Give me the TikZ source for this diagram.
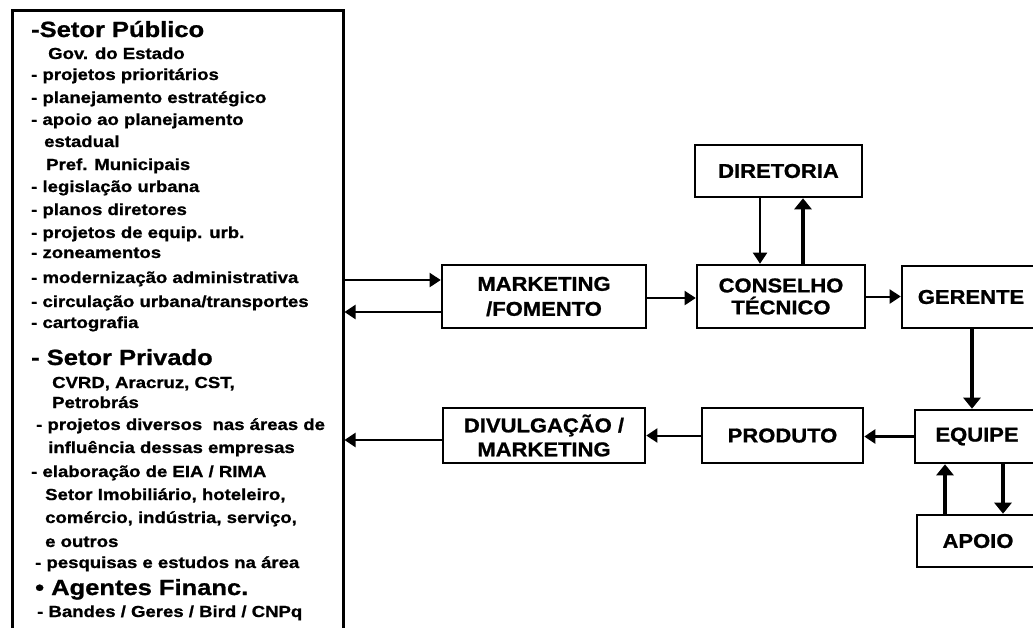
\documentclass[tikz,border=0pt]{standalone}
\usepackage{fontspec}
\usetikzlibrary{arrows.meta}
\newfontfamily\lf{Liberation Sans}[FakeStretch=1.16,FakeBold=1]
\newfontfamily\boxff{Liberation Sans}[FakeStretch=1.1,FakeBold=1]
\begin{document}
\begin{tikzpicture}[x=1pt,y=-1pt,
 box/.style={draw, line width=2.6pt, inner sep=0pt, align=center,
   font=\boxff\bfseries\fontsize{20}{25}\selectfont},
 li/.style={anchor=base west, inner sep=0pt, font=\lf\bfseries\fontsize{16}{18}\selectfont},
 hd/.style={anchor=base west, inner sep=0pt, font=\lf\bfseries\fontsize{22}{24}\selectfont},
 arr/.style={line width=2pt, -{Triangle[length=11pt,width=14pt]}},
 tarr/.style={line width=3.8pt, -{Triangle[length=11pt,width=17pt]}},
]
\useasboundingbox (0,0) rectangle (1033,627);
\clip (0,0) rectangle (1033,627);
\fill[white] (0,0) rectangle (1033,627);

% left box
\node[draw, line width=3pt, minimum width=331pt, minimum height=630pt, inner sep=0pt] (lbox) at (177.5,325) {};
\node[hd] (l1)  at (31,37)  {-Setor Público};
\node[li] (l2)  at (48,59)  {Gov. do Estado};
\node[li] (l3)  at (31,80)  {- projetos prioritários};
\node[li] (l4)  at (31,103) {- planejamento estratégico};
\node[li] (l5)  at (31,125) {- apoio ao planejamento};
\node[li] (l6)  at (44,147) {estadual};
\node[li] (l7)  at (46,170) {Pref. Municipais};
\node[li] (l8)  at (31,192) {- legislação urbana};
\node[li] (l9)  at (31,215) {- planos diretores};
\node[li] (l10) at (31,238) {- projetos de equip. urb.};
\node[li] (l11) at (31,258) {- zoneamentos};
\node[li] (l12) at (31,283) {- modernização administrativa};
\node[li] (l13) at (31,307) {- circulação urbana/transportes};
\node[li] (l14) at (31,328) {- cartografia};
\node[hd] (l15) at (31,365) {- Setor Privado};
\node[li] (l16) at (52,388) {CVRD, Aracruz, CST,};
\node[li] (l17) at (52,408) {Petrobrás};
\node[li] (l18) at (36,430) {- projetos diversos\ \ nas áreas de};
\node[li] (l19) at (48,453) {influência dessas empresas};
\node[li] (l20) at (31,477) {- elaboração de EIA / RIMA};
\node[li] (l21) at (45,500) {Setor Imobiliário, hoteleiro,};
\node[li] (l22) at (45,523) {comércio, indústria, serviço,};
\node[li] (l23) at (45,547) {e outros};
\node[li] (l24) at (35,568) {- pesquisas e estudos na área};
\node[hd] (l25) at (35,595) {• Agentes Financ.};
\node[li] (l26) at (37,617) {- Bandes / Geres / Bird / CNPq};

% flow boxes
\node[box, minimum width=204pt, minimum height=63pt] (mkt) at (544,296.5) {MARKETING\\/FOMENTO};
\node[box, minimum width=168pt, minimum height=63pt, font=\boxff\bfseries\fontsize{20}{22}\selectfont] (cons) at (781,296.5) {CONSELHO\\TÉCNICO};
\node[box, minimum width=167pt, minimum height=52pt] (dir) at (778.5,171) {DIRETORIA};
\node[box, minimum width=138pt, minimum height=62pt] (ger) at (971,297) {GERENTE};
\node[box, minimum width=124pt, minimum height=53pt] (equ) at (977,436.5) {EQUIPE};
\node[box, minimum width=122pt, minimum height=52pt] (apo) at (978,541) {APOIO};
\node[box, minimum width=161pt, minimum height=55pt] (pro) at (782.5,435.5) {PRODUTO};
\node[box, minimum width=202pt, minimum height=55pt, font=\boxff\bfseries\fontsize{20}{24}\selectfont] (div) at (544,435.5) {DIVULGAÇÃO /\\MARKETING};

% helper coordinates
\path ([yshift=16.5pt]mkt.west) coordinate (m1);
\path ([yshift=-15.5pt]mkt.west) coordinate (m2);
\path ([yshift=-4.5pt]div.west) coordinate (d1);
\path ([xshift=-18.5pt]dir.south) coordinate (r1);
\path ([xshift=24.5pt]dir.south) coordinate (r2);
\path ([xshift=1pt]ger.south) coordinate (g1);
\path ([xshift=-32pt]equ.south) coordinate (e1);
\path ([xshift=26pt]equ.south) coordinate (e2);

% connectors
\draw[arr] (m1 -| lbox.east) -- (m1);
\draw[arr] (m2) -- (m2 -| lbox.east);
\draw[arr] ([yshift=-1.5pt]mkt.east) -- ([yshift=-1.5pt]cons.west);
\draw[arr] (r1) -- (r1 |- cons.north);
\draw[tarr] (r2 |- cons.north) -- (r2);
\draw[arr] (cons.east) -- (cons.east -| ger.west);
\draw[tarr] (g1) -- (g1 |- equ.north);
\draw[arr, line width=2.5pt] (equ.west) -- (equ.west -| pro.east);
\draw[arr] (pro.west) -- (pro.west -| div.east);
\draw[arr] (d1) -- (d1 -| lbox.east);
\draw[tarr] (e1 |- apo.north) -- (e1);
\draw[tarr] (e2) -- (e2 |- apo.north);
\end{tikzpicture}
\end{document}
